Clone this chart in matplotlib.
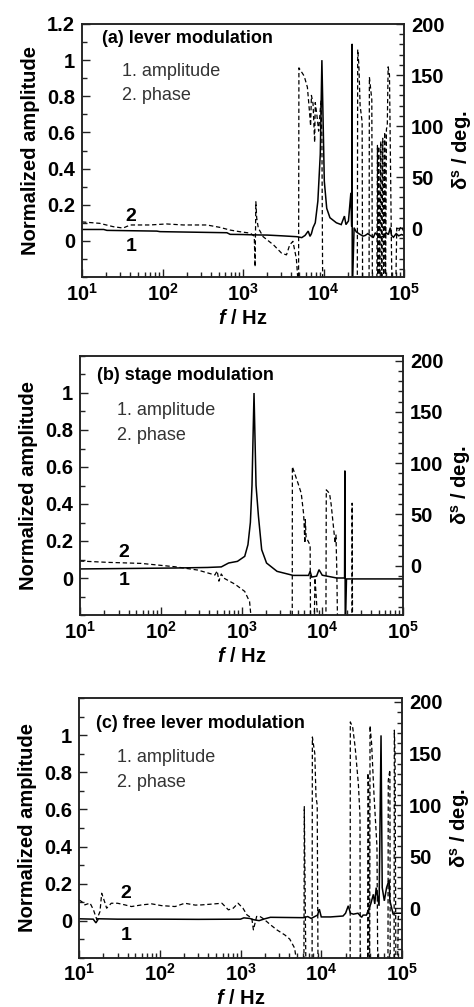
import math
import matplotlib
matplotlib.use("Agg")
import matplotlib.pyplot as plt
from matplotlib.ticker import FixedLocator, MultipleLocator, LogLocator, FuncFormatter, NullFormatter

plt.rcParams['font.family'] = ['Liberation Sans', 'DejaVu Sans']
plt.rcParams['mathtext.fontset'] = 'custom'
plt.rcParams['mathtext.rm'] = 'Liberation Sans:bold'
plt.rcParams['mathtext.bf'] = 'Liberation Sans:bold'
plt.rcParams['mathtext.it'] = 'Liberation Sans:italic:bold'

#(a) lever modulation - amplitude (1) and phase (2)
a_amp_f = [10, 18.6, 20.4, 85, 93, 631, 692, 1000, 1400, 2000, 3000, 4677, 5370, 5900, 6457,
           6800, 7079, 7413, 7900, 8511, 9120, 9550, 10233, 10965, 12023, 14454, 16596, 18197, 19000, 20417,
           21878, 22400, 22700, 22750, 23988, 25500, 27500, 30903, 33000, 35500, 38000, 41687, 44000, 47000, 51000,
           56234, 60000, 64000, 67608, 70000, 74000, 80000, 86000, 93000, 100000]
a_amp = [0.063, 0.063, 0.058, 0.054, 0.051, 0.045, 0.036, 0.035, 0.033, 0.032, 0.028, 0.023, 0.018, 0.03, 0.054,
         0.025, 0.04, 0.073, 0.1, 0.22, 0.48, 1.0, 0.33, 0.18, 0.128, 0.1, 0.09, 0.137, 0.09, 0.11,
         0.266, 0.08, 1.09, -0.3, 0.073, 0.05, 0.04, 0.026, 0.03, 0.04, 0.03, 0.02, 0.045, 0.03, 0.02,
         0.025, 0.045, 0.035, 0.073, 0.03, 0.02, 0.04, 0.028, 0.035, 0.03]
a_ph_f = [10, 16.6, 24.5, 32.4, 39.8, 69.2, 112, 182, 355, 513, 692, 912, 1230, 1380, 1413,
          1445, 1479, 1549, 1778, 2399, 3020, 3467, 3802, 4169, 4365, 4600, 4900, 4950, 5754, 6310,
          6600, 6918, 7079, 7413, 7762, 7900, 8300, 8700, 9300, 9550, 9772, 26300, 26600, 27500, 28500,
          30200, 30600, 36800, 37154, 39811, 40500, 46000, 46774, 47500, 48500, 50000, 51500, 53000, 54500, 56000,
          57544, 59000, 60500, 62000, 63500, 66000, 70795, 79000, 81283, 86000, 92000, 100000]
a_ph = [6, 4.6, 1.3, 0, 3, 3, 4, 3, 3, 0.7, -2, -3.6, -5, -8, -38,
        25.7, 10, 0, -8.5, -16.6, -24.7, -26.3, -16.6, -13, -21, -30, -60, 157, 149, 138,
        120, 100, 130, 122, 84, 123, 110, 95, 125, 89, -60, -60, 175, 160, 120,
        104, -60, -60, 148, 126, -60, -60, 81, -60, 80, -60, 85, -60, 88, -60,
        94, -60, 97, 100, 158, 150, -60, -60, 0, -3, 2, -4]

#(b) stage modulation
b_amp_f = [10, 151, 380, 562, 692, 891, 1096, 1202, 1288, 1349, 1396, 1429, 1462, 1514, 1622,
           1778, 2042, 2754, 4365, 6761, 7079, 7413, 8511, 9120, 10000, 15136, 18900, 19055, 19280, 19953, 100000]
b_amp = [0.049, 0.054, 0.057, 0.06, 0.081, 0.09, 0.117, 0.18, 0.3, 0.5, 0.8, 1.0, 0.8, 0.5, 0.333,
         0.153, 0.081, 0.036, 0.014, 0.014, 0.036, 0.005, 0.01, 0.045, 0.015, 0.0, 0.0, 0.58, -0.3, -0.005, -0.005]
b_ph_f = [10, 22.4, 57.5, 151, 288, 468, 500, 525, 562, 603, 832, 1096, 1259, 1350, 4250,
          4266, 5012, 5495, 5888, 6095, 6166, 6310, 7079, 7161, 7943, 8128, 8913, 11100, 11220, 12303,
          12882, 14454, 14791, 15136, 15488, 23300, 23442, 23714, 100000]
b_ph = [4.6, 3.3, 2.3, -1, -4.2, -9, -5, -15, -8, -12, -18, -25, -35, -60, -60,
        96.6, 80.4, 70.6, 50, 22, 45, 28, 20, -60, -60, -12, -60, -60, 74, 70.6,
        60, 21.8, 30, -4.2, -60, -60, 61, -60, -60]

#(c) free lever modulation
c_amp_f = [10, 15, 16.2, 17.4, 30, 100, 300, 1000, 1100, 1300, 1450, 1700, 2000, 2344, 6026,
           6800, 7500, 9000, 9462, 10000, 13000, 18600, 20000, 21600, 23000, 25000, 28500, 31623, 33000, 36300,
           38500, 41000, 44200, 46000, 47900, 52000, 55000, 56900, 60400, 64400, 69200, 70800, 77600, 85100, 100000]
c_amp = [0.01, 0.008, -0.012, 0.01, 0.008, 0.008, 0.007, 0.008, 0.015, 0.012, 0.005, 0.0, 0.01, 0.018, 0.016,
         0.022, 0.012, 0.03, 0.062, 0.02, 0.02, 0.025, 0.04, 0.08, 0.04, 0.035, 0.04, 0.018, 0.03, 0.03,
         0.06, 0.09, 0.142, 0.09, 0.178, 0.08, 1.0, 0.178, 0.107, 0.178, 0.22, 0.107, 0.036, 0.04, 0.04]
c_ph_f = [10, 10.8, 11.8, 13.7, 15.1, 16.6, 18.2, 19.1, 21, 22, 25.1, 30, 37, 44.7, 60,
          79.4, 105, 155, 204, 275, 331, 479, 589, 708, 813, 933, 1072, 1202, 1380, 1445,
          1585, 1738, 1905, 2344, 2818, 3548, 4074, 4677, 5129, 6100, 6166, 6457, 7700, 7762, 8318,
          8610, 8913, 9120, 22800, 22909, 24547, 26303, 28840, 30200, 30400, 37500, 37800, 38600, 39000, 39800,
          40200, 42000, 45000, 48978, 50119, 67000, 67608, 70795, 71500, 79800, 80300, 82000, 84000, 88000, 90000,
          100000]
c_ph = [8, 6.4, 3.2, 5, -1.6, -11, -3.2, 14.5, 5, 0, 4.8, 4.8, 3.2, 1.6, 3.2,
        4.2, 2.5, 1.6, 4.8, 3, 3.2, 4.2, 4.8, -1.6, 0, 4.8, 0, -6.5, -9.7, -21,
        -8, -8, -10, -16, -21, -26, -30, -38.7, -60, -60, 98.4, -60, -60, 166, 150,
        108, 100, -60, -60, 180.6, 175, 156, 120, 89, -60, -60, 131, 120, -60, -60,
        177, 160, 110, 59.6, -60, -60, 124, 134, -60, -60, 172.6, 150, -60, -60, -8,
        -8]

titles = ["(a) lever modulation", "(b) stage modulation", "(c) free lever modulation"]
amp_ticks = [[0, 0.2, 0.4, 0.6, 0.8, 1, 1.2], [0, 0.2, 0.4, 0.6, 0.8, 1], [0, 0.2, 0.4, 0.6, 0.8, 1]]
deg_ticks = [0, 50, 100, 150, 200]


def draw_panel(fig, rect, amp_f, amp, ph_f, ph, title, ticks, deg_top, txt):
	ax = fig.add_axes(rect)
	ax2 = ax.twinx()
	ax.plot(amp_f, amp, color='k', lw=1.1, solid_joinstyle='miter')
	ax2.plot(ph_f, ph, color='k', lw=0.9, linestyle=(0, (3.5, 2.2)))
	ax.set_xscale('log')
	ax.set_xlim(10, 1e5)
	ax.set_ylim(-0.2, 1.2)
	ax2.set_ylim(-48, deg_top)

	ax.xaxis.set_major_locator(LogLocator(base=10, numticks=10))
	ax.xaxis.set_minor_locator(LogLocator(base=10, subs=range(2, 10), numticks=20))
	ax.xaxis.set_minor_formatter(NullFormatter())
	ax.xaxis.set_major_formatter(FuncFormatter(lambda v, p: r'$\mathbf{10^{%d}}$' % round(math.log10(v))))
	ax.yaxis.set_major_locator(FixedLocator(ticks))
	ax.yaxis.set_major_formatter(FuncFormatter(lambda v, p: '%g' % v))
	ax.yaxis.set_minor_locator(MultipleLocator(0.1))
	ax2.yaxis.set_major_locator(FixedLocator(deg_ticks))
	ax2.yaxis.set_minor_locator(MultipleLocator(10))

	for a in (ax, ax2):
		a.tick_params(which='both', direction='in', top=False, width=1.0, color='#222222')
		a.tick_params(which='major', length=6, labelsize=14.5, pad=5)
		a.tick_params(which='minor', length=3.5)
		for s in a.spines.values():
			s.set_linewidth(1.1)
			s.set_color('#222222')
	for lab in ax.get_xticklabels() + ax.get_yticklabels() + ax2.get_yticklabels():
		lab.set_fontweight('bold')
	ax.tick_params(axis='x', pad=4)

	ax.set_xlabel(r'$f$ / Hz', fontsize=14.5, fontweight='bold', labelpad=3)
	ax.set_ylabel('Normalized amplitude', fontsize=14.5, fontweight='bold', labelpad=5)
	ax2.set_ylabel(r'δ$^{\mathbf{s}}$ / deg.', fontsize=14.5, fontweight='bold', labelpad=4)

	#in-plot labels
	ax.text(txt[0], txt[1], title, transform=ax.transAxes, fontsize=13, fontweight='bold', va='center')
	ax.text(txt[2], txt[3], '1. amplitude', transform=ax.transAxes, fontsize=13, color='#333333', va='center')
	ax.text(txt[2], txt[4], '2. phase', transform=ax.transAxes, fontsize=13, color='#333333', va='center')
	ax.text(txt[5], txt[6], '2', transform=ax.transAxes, fontsize=14, fontweight='bold', va='center', ha='center')
	ax.text(txt[5], txt[7], '1', transform=ax.transAxes, fontsize=14, fontweight='bold', va='center', ha='center')
	return ax


fig = plt.figure(figsize=(4.74, 10.07), dpi=100)
W, H = 474.0, 1007.0
draw_panel(fig, [82/W, 1-277/H, 322/W, 253/H], a_amp_f, a_amp, a_ph_f, a_ph, titles[0], amp_ticks[0], 200,
           [0.062, 0.941, 0.123, 0.814, 0.719, 0.152, 0.241, 0.12])
draw_panel(fig, [80/W, 1-615/H, 323/W, 259/H], b_amp_f, b_amp, b_ph_f, b_ph, titles[1], amp_ticks[1], 204.5,
           [0.052, 0.923, 0.116, 0.788, 0.694, 0.136, 0.241, 0.135])
draw_panel(fig, [79/W, 1-957.7/H, 323/W, 259.4/H], c_amp_f, c_amp, c_ph_f, c_ph, titles[2], amp_ticks[2], 203.5,
           [0.053, 0.904, 0.119, 0.771, 0.677, 0.145, 0.246, 0.0875])

fig.savefig('out.png', dpi=100)
